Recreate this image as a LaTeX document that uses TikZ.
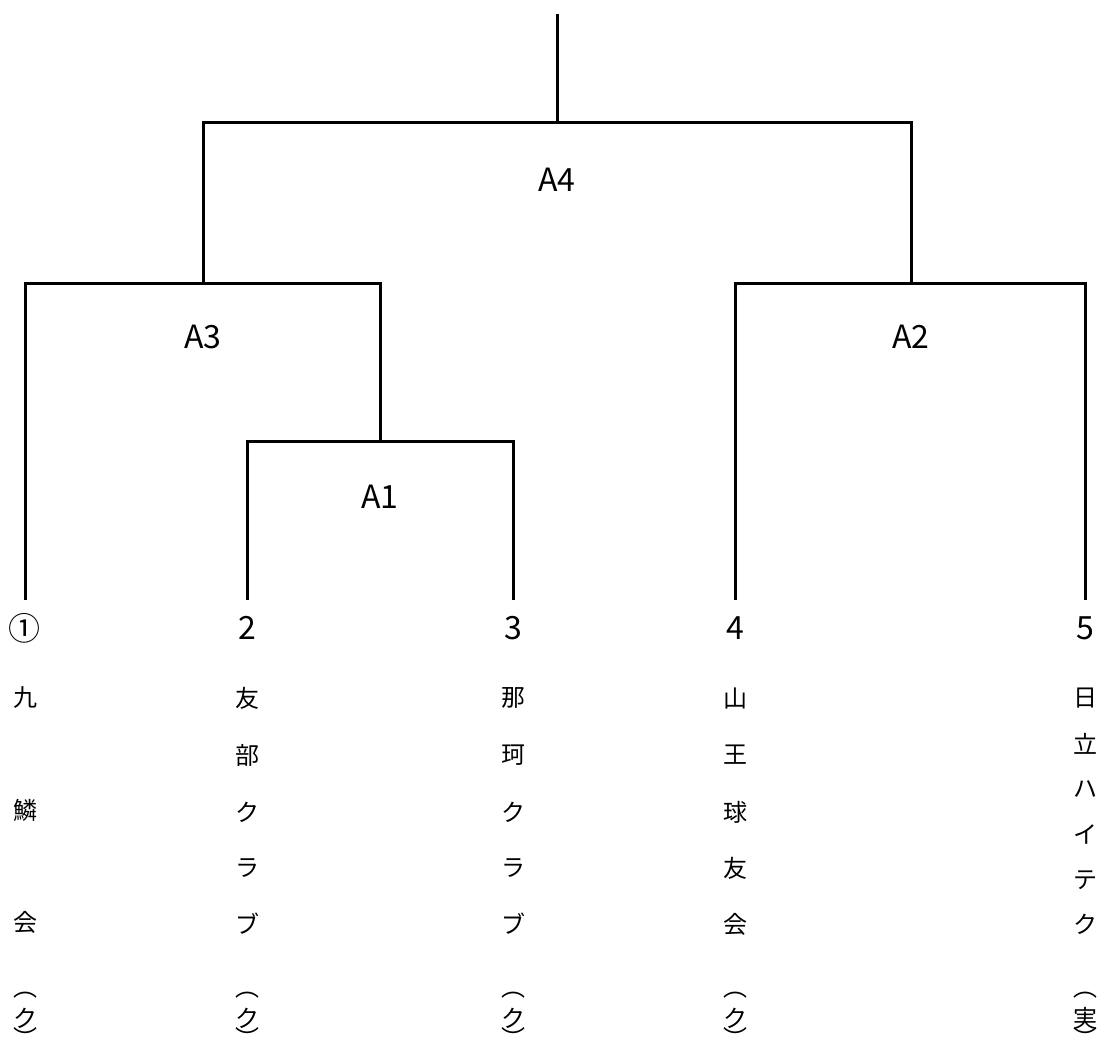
\documentclass[tikz,border=0pt]{standalone}
\usepackage{fontspec}
\setmainfont{Noto Sans CJK JP}
\newfontfamily\jp{Noto Sans CJK JP}
\begin{document}
\begin{tikzpicture}[x=1pt,y=-1pt,
  bracket/.style={line width=3pt,line join=miter,line cap=rect},
  lbl/.style={font=\jp\fontsize{32}{32}\selectfont,inner sep=0pt},
  ch/.style={font=\jp\fontsize{24}{24}\selectfont,inner sep=0pt}]
\useasboundingbox (0,0) rectangle (1105,1044);
% junction coordinates
\coordinate (root) at (557,15);
\coordinate (a4) at (557,122);
\coordinate (a4l) at (203,122);
\coordinate (a4r) at (911,122);
\coordinate (a3) at (203,283);
\coordinate (a3l) at (25,283);
\coordinate (a3r) at (380,283);
\coordinate (a1) at (380,441);
\coordinate (a1l) at (247,441);
\coordinate (a1r) at (513,441);
\coordinate (a2) at (911,283);
\coordinate (a2l) at (735,283);
\coordinate (a2r) at (1085,283);
\coordinate (e1) at (25,598);
\coordinate (e2) at (247,598);
\coordinate (e3) at (513,598);
\coordinate (e4) at (735,598);
\coordinate (e5) at (1085,598);
% connectors
\draw[bracket] (root) -- (a4);
\draw[bracket] (a3) -- (a4l) -- (a4r) -- (a2);
\draw[bracket] (e1) -- (a3l) -- (a3r) -- (a1);
\draw[bracket] (e2) -- (a1l) -- (a1r) -- (e3);
\draw[bracket] (e4) -- (a2l) -- (a2r) -- (e5);
% round labels
\node[lbl] (tA4) at (557,180) {A4};
\node[lbl] (tA3) at (203,337) {A3};
\node[lbl] (tA2) at (911,337) {A2};
\node[lbl] (tA1) at (380,497) {A1};
% seed numbers
\node[lbl] (n1) at (25,628) {①};
\node[lbl] (n2) at (247,628) {2};
\node[lbl] (n3) at (513,628) {3};
\node[lbl] (n4) at (735,628) {4};
\node[lbl] (n5) at (1085,628) {5};
% team names (vertical)
\foreach \c/\y [count=\i] in {九/698,鱗/810,会/922}
  \node[ch] (t1c\i) at (25,\y) {\c};
\foreach \c/\y [count=\i] in {友/698,部/755,ク/812,ラ/868,ブ/924}
  \node[ch] (t2c\i) at (247,\y) {\c};
\foreach \c/\y [count=\i] in {那/698,珂/755,ク/812,ラ/868,ブ/924}
  \node[ch] (t3c\i) at (513,\y) {\c};
\foreach \c/\y [count=\i] in {山/698,王/755,球/812,友/868,会/924}
  \node[ch] (t4c\i) at (735,\y) {\c};
\foreach \c/\y [count=\i] in {日/698,立/744,ハ/789,イ/834,テ/880,ク/924}
  \node[ch] (t5c\i) at (1085,\y) {\c};
% affiliation in vertical parentheses
\foreach \x/\c [count=\i] in {25/ク,247/ク,513/ク,735/ク,1085/実}{
  \node[ch] (po\i) at (\x,995.5) {︵};
  \node[ch] (pc\i) at (\x,1018) {\c};
  \node[ch] (pe\i) at (\x,1037.5) {︶};
}
\end{tikzpicture}
\end{document}
